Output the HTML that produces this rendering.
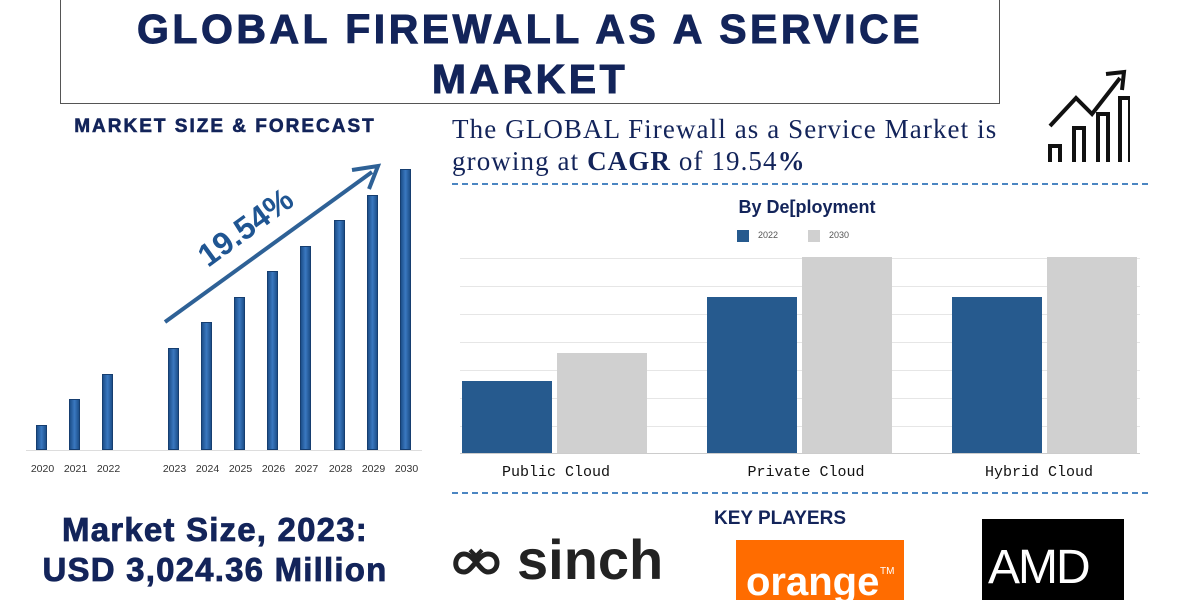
<!DOCTYPE html>
<html><head><style>
body{margin:0;width:1200px;height:600px;background:#fff;overflow:hidden;position:relative;font-family:"Liberation Sans",sans-serif}
.a{position:absolute}
.t{color:#13245a;font-weight:bold;text-align:center}
.bar{position:absolute;width:11px;background:linear-gradient(90deg,#1d4f8a,#3a78c0 50%,#1d4f8a);border:1px solid #163e70;box-sizing:border-box}
.yr{position:absolute;top:463px;font-size:10.5px;color:#333;width:33px;text-align:center}
.rb{position:absolute;width:90px}
.dash{position:absolute;left:452px;width:696px;border-top:2px dashed #4b86c2}
.grid{position:absolute;left:460px;width:680px;border-top:1px solid #e6e6e6}
.cl{position:absolute;top:464px;font-family:"Liberation Mono",monospace;font-size:15px;color:#111;width:200px;text-align:center}
</style></head><body>
<div class="a" style="left:60px;top:-4px;width:938px;height:106px;border:1px solid #555"></div>
<div class="a t" style="left:60px;top:4px;width:940px;font-size:41px;line-height:50px;letter-spacing:3.5px;-webkit-text-stroke:1px #13245a">GLOBAL FIREWALL AS A SERVICE<br>MARKET</div>
<div class="a t" style="left:50px;top:116px;width:350px;font-size:19px;letter-spacing:2px;-webkit-text-stroke:0.6px #13245a">MARKET SIZE &amp; FORECAST</div>
<div class="a" style="left:26px;top:450px;width:396px;border-top:1px solid #ddd"></div>
<div class="bar" style="left:36px;top:425px;height:25px"></div>
<div class="bar" style="left:69px;top:399px;height:51px"></div>
<div class="bar" style="left:102px;top:374px;height:76px"></div>
<div class="bar" style="left:168px;top:348px;height:102px"></div>
<div class="bar" style="left:201px;top:322px;height:128px"></div>
<div class="bar" style="left:234px;top:297px;height:153px"></div>
<div class="bar" style="left:267px;top:271px;height:179px"></div>
<div class="bar" style="left:300px;top:246px;height:204px"></div>
<div class="bar" style="left:334px;top:220px;height:230px"></div>
<div class="bar" style="left:367px;top:195px;height:255px"></div>
<div class="bar" style="left:400px;top:169px;height:281px"></div>
<div class="yr" style="left:26px">2020</div><div class="yr" style="left:59px">2021</div><div class="yr" style="left:92px">2022</div>
<div class="yr" style="left:158px">2023</div><div class="yr" style="left:191px">2024</div><div class="yr" style="left:224px">2025</div><div class="yr" style="left:257px">2026</div><div class="yr" style="left:290px">2027</div><div class="yr" style="left:324px">2028</div><div class="yr" style="left:357px">2029</div><div class="yr" style="left:390px">2030</div>
<svg class="a" style="left:0;top:0" width="440" height="460"><line x1="165" y1="322" x2="372" y2="172" stroke="#2e6196" stroke-width="4"/><polyline points="352,170 378,166 369,189" fill="none" stroke="#2e6196" stroke-width="4"/>
<text x="0" y="0" transform="translate(208,268) rotate(-36)" font-family="Liberation Sans" font-size="32" font-weight="bold" fill="#1f5592">19.54%</text></svg>
<div class="a t" style="left:0;top:510px;width:430px;font-size:33px;line-height:40px;letter-spacing:1.2px;-webkit-text-stroke:0.8px #13245a">Market Size, 2023:<br>USD 3,024.36 Million</div>
<div class="a" style="left:452px;top:113px;font-family:'Liberation Serif',serif;font-size:27px;letter-spacing:1.1px;line-height:32px;color:#13245a">The GLOBAL Firewall as a Service Market is<br>growing at <b>CAGR</b> of 19.54<b>%</b></div>
<svg class="a" style="left:1040px;top:66px" width="90" height="96"><g fill="none" stroke="#111" stroke-width="4"><polyline points="10,60 36,32 52,48 80,12"/><polyline points="66,8 84,6 82,24"/><path d="M10 96V80h10v16M34 96V62h10v34M58 96V48h10v48M80 96V32h10v64"/></g></svg>
<div class="dash" style="top:183px"></div>
<div class="a t" style="left:652px;top:197px;width:310px;font-size:18px">By De[ployment</div>
<div class="a" style="left:737px;top:230px;width:12px;height:12px;background:#265a8e"></div><div class="a" style="left:758px;top:230px;font-size:9px;color:#555">2022</div>
<div class="a" style="left:808px;top:230px;width:12px;height:12px;background:#d0d0d0"></div><div class="a" style="left:829px;top:230px;font-size:9px;color:#555">2030</div>
<div class="grid" style="top:258px"></div><div class="grid" style="top:286px"></div><div class="grid" style="top:314px"></div><div class="grid" style="top:342px"></div><div class="grid" style="top:370px"></div><div class="grid" style="top:398px"></div><div class="grid" style="top:426px"></div><div class="grid" style="top:453px;border-color:#ccc"></div>
<div class="rb" style="left:462px;top:381px;height:72px;background:#265a8e"></div>
<div class="rb" style="left:557px;top:353px;height:100px;background:#d0d0d0"></div>
<div class="rb" style="left:707px;top:297px;height:156px;background:#265a8e"></div>
<div class="rb" style="left:802px;top:257px;height:196px;background:#d0d0d0"></div>
<div class="rb" style="left:952px;top:297px;height:156px;background:#265a8e"></div>
<div class="rb" style="left:1047px;top:257px;height:196px;background:#d0d0d0"></div>
<div class="cl" style="left:456px">Public Cloud</div><div class="cl" style="left:706px">Private Cloud</div><div class="cl" style="left:939px">Hybrid Cloud</div>
<div class="dash" style="top:492px"></div>
<div class="a t" style="left:680px;top:508px;width:200px;font-size:19px">KEY PLAYERS</div>
<svg class="a" style="left:450px;top:540px" width="60" height="50"><path d="M14 14c-10 0-12 18 0 18 8 0 14-18 24-18 12 0 12 18 0 18-8 0-14-18-24-18z" fill="none" stroke="#222" stroke-width="5"/><path d="M20 10l6 6 6-6" fill="none" stroke="#222" stroke-width="4"/></svg>
<div class="a" style="left:517px;top:527px;font-size:56px;font-weight:bold;color:#222;letter-spacing:0px">sinch</div>
<div class="a" style="left:736px;top:540px;width:168px;height:60px;background:#ff6c00"></div>
<div class="a" style="left:746px;top:560px;font-size:40px;font-weight:bold;color:#fff">orange</div>
<div class="a" style="left:880px;top:566px;font-size:10px;color:#fff">TM</div>
<div class="a" style="left:982px;top:519px;width:142px;height:81px;background:#000"></div>
<div class="a" style="left:988px;top:540px;font-size:48px;color:#fff;letter-spacing:-2px">AMD</div>
</body></html>
